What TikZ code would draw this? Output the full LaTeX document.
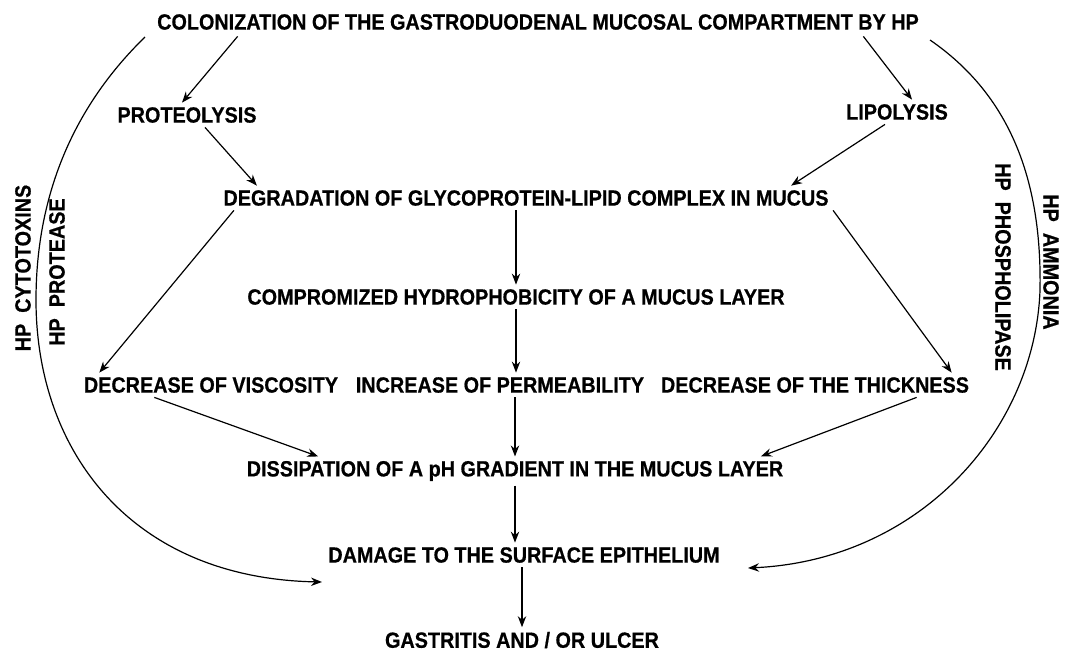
\documentclass[tikz,border=0pt]{standalone}
\usepackage{fontspec}
\newfontfamily\condfont[FakeStretch=0.9,BoldFeatures={FakeBold=0.6}]{Liberation Sans}
\usetikzlibrary{arrows.meta,calc}

\begin{document}
\begin{tikzpicture}[x=0.5pt,y=-0.5pt,->,>={Stealth[length=5.5pt,width=4.2pt]},line width=0.6pt,
  step node/.style={font=\condfont\bfseries\fontsize{11}{13}\selectfont,inner sep=2pt}]

  \useasboundingbox (0,0) rectangle (1074,665);

  \node[step node] (colon) at (538,22) {COLONIZATION OF THE GASTRODUODENAL MUCOSAL COMPARTMENT BY HP};
  \node[step node] (proteo) at (187,115) {PROTEOLYSIS};
  \node[step node] (lipo) at (897,112) {LIPOLYSIS};
  \node[step node] (degrad) at (526,198) {DEGRADATION OF GLYCOPROTEIN-LIPID COMPLEX IN MUCUS};
  \node[step node] (compro) at (516,297) {COMPROMIZED HYDROPHOBICITY OF A MUCUS LAYER};
  \node[step node] (visc) at (211,385) {DECREASE OF VISCOSITY};
  \node[step node] (perm) at (500,385) {INCREASE OF PERMEABILITY};
  \node[step node] (thick) at (815,385) {DECREASE OF THE THICKNESS};
  \node[step node] (dissip) at (515,471) {DISSIPATION OF A pH GRADIENT IN THE MUCUS LAYER};
  \node[step node] (damage) at (524,555) {DAMAGE TO THE SURFACE EPITHELIUM};
  \node[step node] (gastr) at (522,640) {GASTRITIS AND / OR ULCER};

  \node[step node,rotate=90] (cyto) at (23,268) {HP\ \ CYTOTOXINS};
  \node[step node,rotate=90] (prot) at (57,272) {HP\ \ PROTEASE};
  \node[step node,rotate=-90] (ammo) at (1051,262) {HP\ \ AMMONIA};
  \node[step node,rotate=-90] (phos) at (1003,267) {HP\ \ PHOSPHOLIPASE};

  \coordinate (lstart) at (145,37);
  \coordinate (lend) at (322,582);
  \coordinate (rstart) at (930,40);
  \coordinate (rend) at (748,568);

  \path[->]
    ($(colon.south west)+(85,2)$) edge node {} ($(proteo.north)+(-5,0)$)
    ($(colon.south east)+(-60,2)$) edge node {} ($(lipo.north)+(15,0)$)
    ($(proteo.south)+(18,0)$) edge node {} ($(degrad.north west)+(38,0)$)
    ($(lipo.south)+(-12,0)$) edge node {} ($(degrad.north east)+(-42,0)$)
    ($(degrad.south west)+(15,0)$) edge node {} ($(visc.north west)+(20,0)$)
    (compro.north |- degrad.south) edge node {} (compro.north)
    (degrad.south east) edge node {} ($(thick.north east)+(-22,0)$)
    (compro.south) edge node {} (compro.south |- perm.north)
    ($(visc.south west)+(75,0)$) edge node {} ($(dissip.north west)+(76,0)$)
    (dissip.north |- perm.south) edge node {} (dissip.north)
    ($(thick.south east)+(-57,0)$) edge node {} ($(dissip.north east)+(-27,0)$)
    (dissip.south) edge node {} (dissip.south |- damage.north)
    (gastr.north |- damage.south) edge node {} (gastr.north);

  \draw (lstart) .. controls (70,110) and (36,200) .. (36,300)
    .. controls (36,450) and (130,578) .. (lend);
  \draw (rstart) .. controls (1010,95) and (1042,180) .. (1040,290)
    .. controls (1035,430) and (920,560) .. (rend);

\end{tikzpicture}
\end{document}
